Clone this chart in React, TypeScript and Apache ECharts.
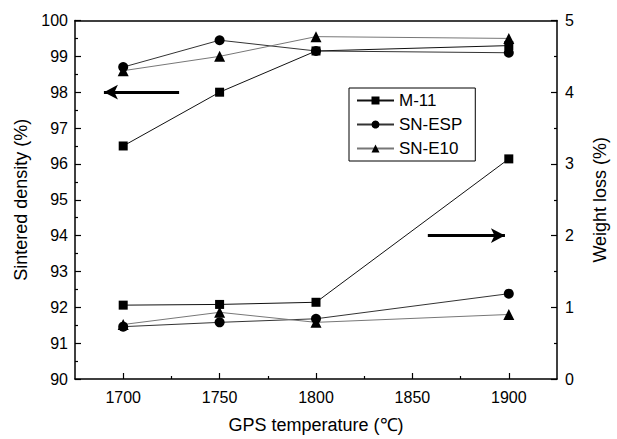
import React, { useEffect, useRef } from "react";
import * as echarts from "echarts";

const temperatures = [1700, 1750, 1800, 1900];
const seriesNames = ["M-11", "SN-ESP", "SN-E10"];
const densityM11 = [96.5, 98.0, 99.15, 99.3];
const densitySNESP = [98.7, 99.45, 99.15, 99.1];
const densitySNE10 = [98.6, 99.0, 99.55, 99.5];
const lossM11 = [1.03, 1.04, 1.07, 3.07];
const lossSNESP = [0.73, 0.79, 0.84, 1.19];
const lossSNE10 = [0.76, 0.93, 0.79, 0.9];
const xMajorTicks = [1700, 1750, 1800, 1850, 1900];
const xMinorTicks = [1725, 1775, 1825, 1875];
const leftArrow = [[1729, 98], [1690, 98]];
const rightArrow = [[1858, 2.0], [1898, 2.0]];

const FONT = "'Liberation Sans', Arial, sans-serif";
const symbols = ["rect", "circle", "triangle"];
const symbolSizes = [9, 10, 11];
const lineColors = ["#111", "#333", "#777"];

export default function App() {
  const ref = useRef<HTMLDivElement>(null);
  useEffect(() => {
    if (!ref.current) return;
    const chart = echarts.init(ref.current, null, { renderer: "svg" });
    const pair = (vals: number[]) => temperatures.map((t, i) => [t, vals[i]]);
    const density = [densityM11, densitySNESP, densitySNE10];
    const loss = [lossM11, lossSNESP, lossSNE10];
    const mkSeries = (i: number, vals: number[], yIdx: number, arrow?: number[][]) => ({
      type: "line",
      name: seriesNames[i],
      data: pair(vals),
      xAxisIndex: 0,
      yAxisIndex: yIdx,
      symbol: symbols[i],
      symbolSize: symbolSizes[i],
      itemStyle: { color: "#000" },
      lineStyle: { color: lineColors[i], width: 1 },
      z: 3,
      markLine: arrow
        ? {
            silent: true,
            symbol: ["none", "arrow"],
            symbolSize: [11, 14],
            label: { show: false },
            lineStyle: { color: "#000", width: 3, type: "solid" },
            data: [[{ coord: arrow[0] }, { coord: arrow[1] }]],
          }
        : undefined,
    });
    const series: any[] = [];
    for (let i = 0; i < 3; i++) series.push(mkSeries(i, density[i], 0, i === 0 ? leftArrow : undefined));
    for (let i = 0; i < 3; i++) series.push(mkSeries(i, loss[i], 1, i === 0 ? rightArrow : undefined));

    const axisLine = { show: true, lineStyle: { color: "#000", width: 1.5 } };
    chart.setOption({
      animation: false,
      backgroundColor: "#fff",
      textStyle: { fontFamily: FONT },
      grid: { left: 75, right: 54, top: 20.5, bottom: 57, containLabel: false },
      legend: {
        data: seriesNames,
        orient: "vertical",
        left: 349,
        top: 88,
        padding: [4, 13, 4, 7],
        itemGap: 7,
        itemWidth: 37,
        itemHeight: 10,
        borderColor: "#000",
        borderWidth: 1,
        textStyle: { fontSize: 17, color: "#000", fontFamily: FONT },
      },
      xAxis: [
        {
          type: "value",
          min: 1675,
          max: 1925,
          position: "bottom",
          axisLine,
          axisTick: { show: true, inside: true, length: 6, customValues: xMajorTicks, lineStyle: { color: "#000", width: 1.2 } },
          axisLabel: {
            customValues: xMajorTicks,
            formatter: (v: number) => String(v),
            fontSize: 16,
            color: "#000",
            margin: 10,
            fontFamily: FONT,
          },
          splitLine: { show: false },
          name: "GPS temperature (℃)",
          nameLocation: "middle",
          nameGap: 37,
          nameTextStyle: { fontSize: 18, color: "#000", fontFamily: FONT },
        },
        {
          type: "value",
          min: 1675,
          max: 1925,
          position: "bottom",
          axisLine: { show: false },
          axisTick: { show: true, inside: true, length: 3, customValues: xMinorTicks, lineStyle: { color: "#000", width: 1.2 } },
          axisLabel: { show: false },
          splitLine: { show: false },
        },
        {
          type: "value",
          min: 1675,
          max: 1925,
          position: "top",
          axisLine,
          axisTick: { show: false },
          axisLabel: { show: false },
          splitLine: { show: false },
        },
      ],
      yAxis: [
        {
          type: "value",
          min: 90,
          max: 100,
          interval: 1,
          position: "left",
          axisLine,
          axisTick: { show: true, inside: true, length: 6, lineStyle: { color: "#000", width: 1.2 } },
          minorTick: { show: true, splitNumber: 2, length: 3, lineStyle: { color: "#000", width: 1.2 } },
          axisLabel: { fontSize: 16, color: "#000", margin: 7, fontFamily: FONT },
          splitLine: { show: false },
          name: "Sintered density (%)",
          nameLocation: "middle",
          nameGap: 40,
          nameRotate: 90,
          nameTextStyle: { fontSize: 18, color: "#000", fontFamily: FONT },
        },
        {
          type: "value",
          min: 0,
          max: 5,
          interval: 1,
          position: "right",
          axisLine,
          axisTick: { show: true, inside: true, length: 6, lineStyle: { color: "#000", width: 1.2 } },
          minorTick: { show: true, splitNumber: 2, length: 3, lineStyle: { color: "#000", width: 1.2 } },
          axisLabel: { fontSize: 16, color: "#000", margin: 8, fontFamily: FONT },
          splitLine: { show: false },
          name: "Weight loss (%)",
          nameLocation: "middle",
          nameGap: 34,
          nameRotate: 90,
          nameTextStyle: { fontSize: 18, color: "#000", fontFamily: FONT },
        },
      ],
      series,
    });
    return () => chart.dispose();
  }, []);
  return (
    <div
      ref={ref}
      style={{ position: "fixed", left: 0, top: 0, width: 617, height: 439, background: "#fff" }}
    />
  );
}
